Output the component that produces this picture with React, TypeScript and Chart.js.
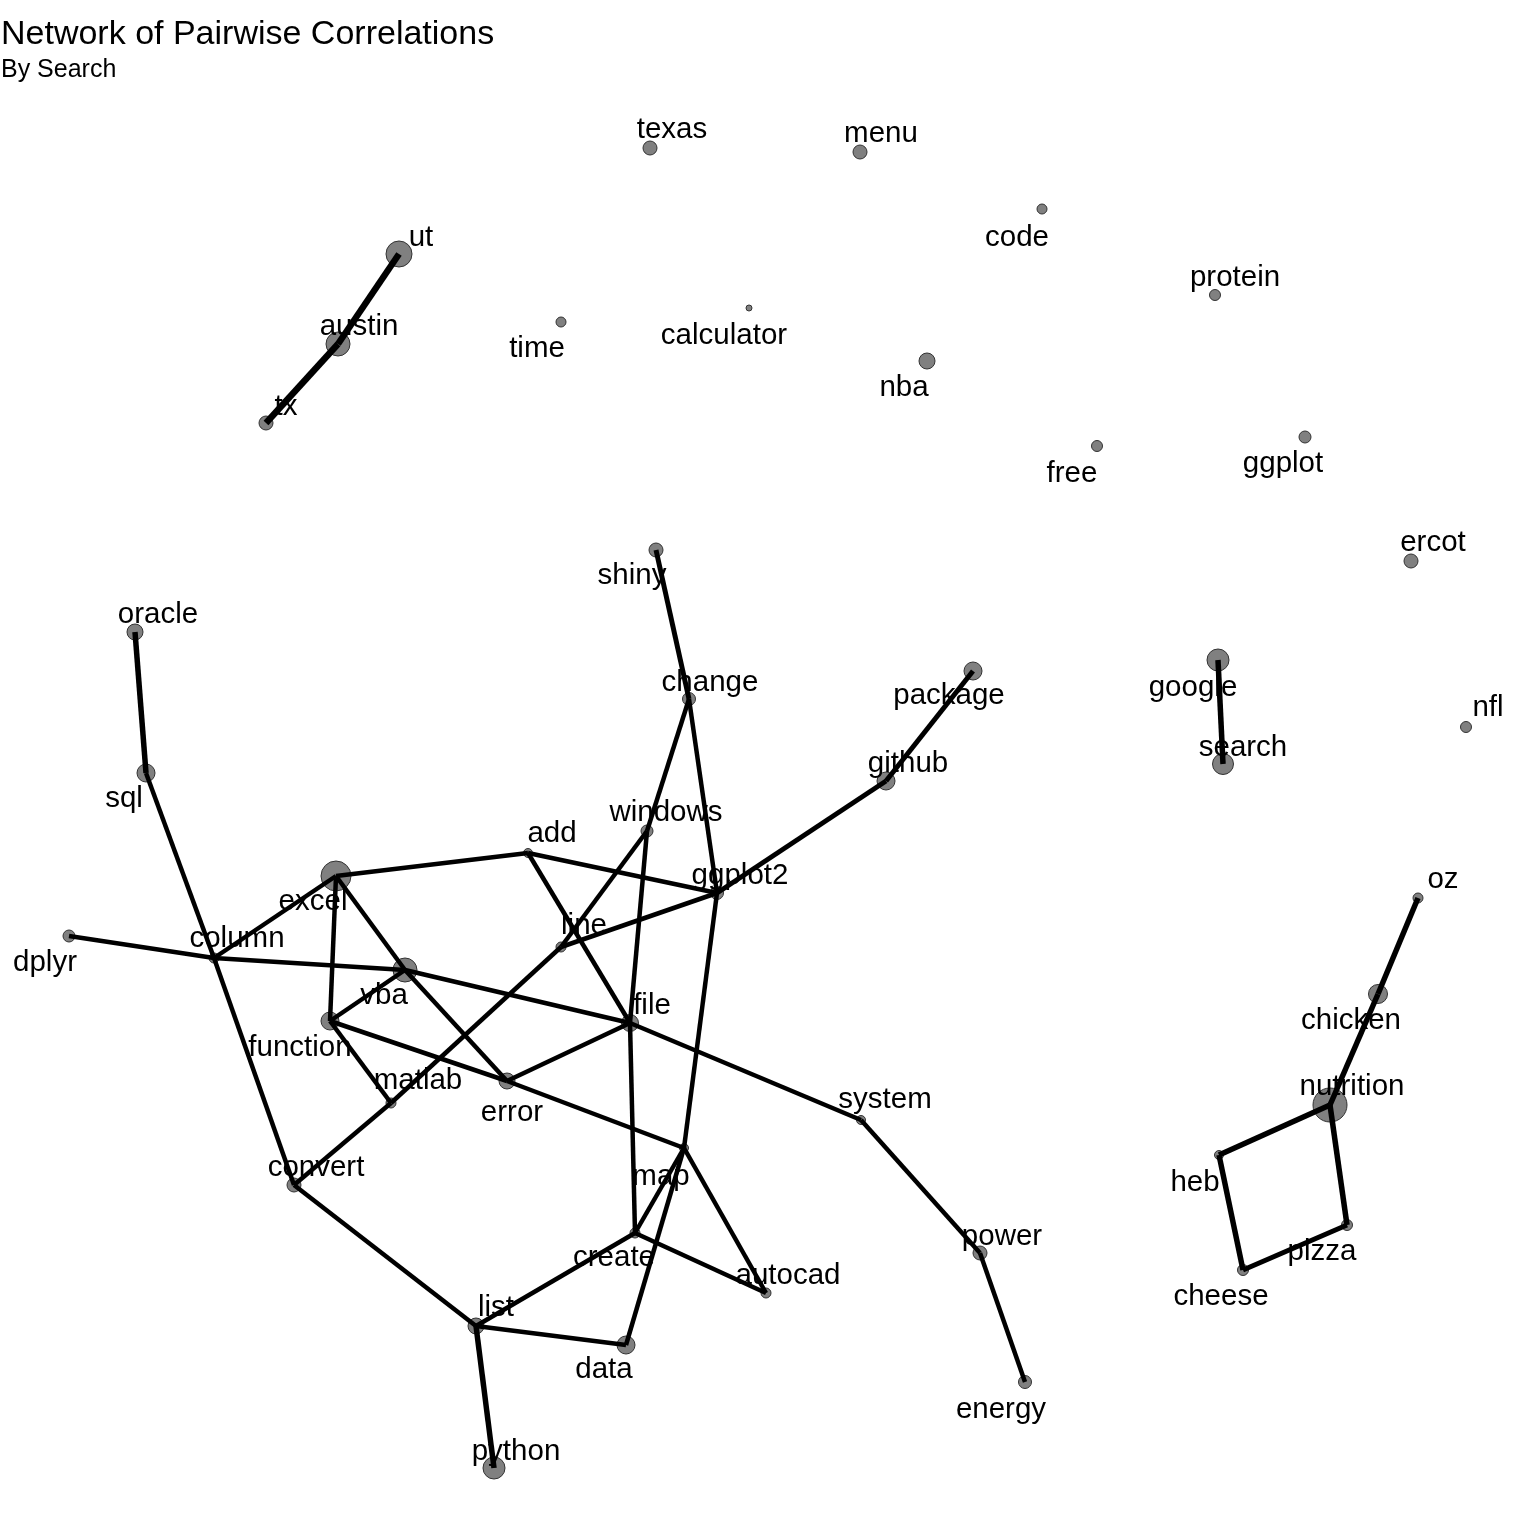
import React, { useEffect, useRef } from "react";
import { Chart, registerables } from "chart.js";

Chart.register(...registerables);

// Node names, layout coordinates, and sizes
const nodeNames = [
  "texas", "menu", "code", "protein", "ut", "austin", "tx", "time", "calculator", "nba",
  "free", "ggplot", "ercot", "shiny", "oracle", "change", "package", "google", "nfl", "search",
  "github", "sql", "windows", "add", "excel", "ggplot2", "oz", "dplyr", "line", "column",
  "vba", "chicken", "file", "function", "error", "matlab", "nutrition", "system", "map", "heb",
  "convert", "pizza", "create", "power", "cheese", "autocad", "list", "data", "energy", "python",
];
const nodeX = [
  650, 860, 1042, 1215, 399, 338, 266, 561, 749, 927,
  1097, 1305, 1411, 656, 135, 689, 973, 1218, 1466, 1223,
  886, 146, 647, 528, 336, 717, 1418, 69, 561, 214,
  405, 1378, 630, 330, 507, 391, 1330, 861, 684, 1219,
  294, 1347, 635, 980, 1243, 766, 476, 626, 1025, 494,
];
const nodeY = [
  148, 152, 209, 295, 254, 344, 423, 322, 308, 361,
  446, 437, 561, 550, 632, 699, 671, 660, 727, 764,
  781, 773, 831, 853, 876, 893, 898, 936, 947, 958,
  970, 994, 1023, 1021, 1081, 1103, 1105, 1120, 1148, 1155,
  1185, 1225, 1233, 1253, 1270, 1293, 1326, 1345, 1382, 1468,
];
const nodeSize = [
  7, 7, 5, 5.5, 13, 12, 7, 5, 3, 8,
  5.5, 6, 7, 7, 8, 6.5, 9, 11, 5.5, 10.5,
  9, 9, 6, 4.5, 15, 6.5, 5, 6, 5, 5,
  12, 9.5, 8.5, 9, 8, 5, 17, 4.5, 4.5, 4.5,
  7, 5.5, 5, 7, 5.5, 5, 8, 9, 6.5, 11,
];
// Label anchor positions (visual centre of the text)
const labelX = [
  672, 881, 1017, 1235, 421, 359, 286, 537, 724, 904,
  1072, 1283, 1433, 632, 158, 710, 949, 1193, 1488, 1243,
  908, 124, 666, 552, 313, 740, 1443, 45, 584, 237,
  384, 1351, 652, 300, 512, 418, 1352, 885, 661, 1195,
  316, 1322, 614, 1002, 1221, 788, 496, 604, 1001, 516,
];
const labelY = [
  130, 134, 238, 278, 238, 327, 407, 349, 336, 388,
  474, 464, 543, 576, 615, 683, 696, 688, 708, 748,
  764, 799, 813, 834, 902, 876, 880, 963, 926, 939,
  996, 1021, 1006, 1048, 1113, 1081, 1087, 1100, 1177, 1183,
  1168, 1252, 1258, 1237, 1297, 1276, 1308, 1370, 1410, 1452,
];

// Edges (pairs of words) and their widths (correlation strength)
const edgeFrom = [
  "ut", "austin", "oracle", "sql", "column", "column", "column", "column",
  "excel", "excel", "excel", "add", "add", "shiny", "change", "change",
  "package", "github", "google", "windows", "line", "matlab", "windows", "line",
  "vba", "vba", "vba", "function", "function", "error", "error", "file",
  "file", "ggplot2", "map", "map", "map", "create", "create", "list",
  "list", "list", "system", "power", "oz", "chicken", "nutrition", "nutrition",
  "heb", "cheese",
];
const edgeTo = [
  "austin", "tx", "sql", "column", "convert", "excel", "dplyr", "vba",
  "add", "vba", "function", "ggplot2", "file", "change", "windows", "ggplot2",
  "github", "ggplot2", "search", "line", "matlab", "convert", "file", "ggplot2",
  "file", "error", "function", "matlab", "error", "map", "file", "system",
  "create", "map", "data", "create", "autocad", "autocad", "list", "convert",
  "data", "python", "power", "energy", "chicken", "nutrition", "heb", "pizza",
  "cheese", "pizza",
];
const edgeWidth = [
  6.5, 6.5, 5.5, 4.5, 4.5, 4.5, 4.5, 4.5,
  4.5, 4.5, 4.5, 4.5, 4.5, 5, 4.5, 4.5,
  5, 5, 5.5, 4.5, 4.5, 4.5, 4.5, 4.5,
  4.5, 4.5, 4.5, 4.5, 4.5, 4.5, 4.5, 4.5,
  4.5, 4.5, 4.5, 4.5, 4.5, 4.5, 4.5, 4.5,
  4.5, 5.5, 4.5, 4.5, 5.5, 5.5, 5.5, 5.5,
  5.5, 5,
];

const titleText = "Network of Pairwise Correlations";
const subtitleText = "By Search";

export default function App() {
  const ref = useRef<HTMLCanvasElement | null>(null);

  useEffect(() => {
    document.body.style.margin = "0";
    const canvas = ref.current;
    if (!canvas) return;

    const idx = (n: string) => nodeNames.indexOf(n);
    const edgeSets = edgeFrom.map((f, i) => {
      const a = idx(f);
      const b = idx(edgeTo[i]);
      return {
        type: "scatter" as const,
        label: f + "-" + edgeTo[i],
        data: [
          { x: nodeX[a], y: nodeY[a] },
          { x: nodeX[b], y: nodeY[b] },
        ],
        showLine: true,
        borderColor: "#000000",
        borderWidth: edgeWidth[i],
        pointRadius: 0,
        pointHoverRadius: 0,
        fill: false,
        order: 1,
      };
    });

    const nodeSet = {
      type: "scatter" as const,
      label: "nodes",
      data: nodeNames.map((n, i) => ({ x: nodeX[i], y: nodeY[i] })),
      pointRadius: nodeSize,
      pointHoverRadius: nodeSize,
      backgroundColor: "#808080",
      borderColor: "#333333",
      borderWidth: 1,
      showLine: false,
      order: 2,
    };

    const textPlugin = {
      id: "textPlugin",
      afterDatasetsDraw(chart: any) {
        const ctx = chart.ctx;
        const xs = chart.scales.x;
        const ys = chart.scales.y;
        ctx.save();
        ctx.fillStyle = "#000000";
        ctx.font = '29.5px "Liberation Sans", Arial, sans-serif';
        ctx.textAlign = "center";
        ctx.textBaseline = "middle";
        nodeNames.forEach((n, i) => {
          ctx.fillText(n, xs.getPixelForValue(labelX[i]), ys.getPixelForValue(labelY[i]));
        });
        ctx.textAlign = "left";
        ctx.textBaseline = "alphabetic";
        ctx.font = '34px "Liberation Sans", Arial, sans-serif';
        ctx.fillText(titleText, 1, 44);
        ctx.font = '25px "Liberation Sans", Arial, sans-serif';
        ctx.fillText(subtitleText, 1, 77);
        ctx.restore();
      },
    };

    const bgPlugin = {
      id: "bg",
      beforeDraw(chart: any) {
        const ctx = chart.ctx;
        ctx.save();
        ctx.fillStyle = "#ffffff";
        ctx.fillRect(0, 0, chart.width, chart.height);
        ctx.restore();
      },
    };

    const chart = new Chart(canvas, {
      type: "scatter",
      data: { datasets: [...edgeSets, nodeSet] as any },
      options: {
        animation: false,
        responsive: false,
        devicePixelRatio: 1,
        layout: { padding: 0, autoPadding: false },
        events: [],
        plugins: {
          legend: { display: false },
          tooltip: { enabled: false },
          title: { display: false },
        },
        scales: {
          x: { type: "linear", min: 0, max: 1536, display: false },
          y: { type: "linear", min: 0, max: 1536, reverse: true, display: false },
        },
      },
      plugins: [bgPlugin, textPlugin],
    });
    return () => chart.destroy();
  }, []);

  return (
    <div style={{ width: 1536, height: 1536 }}>
      <canvas ref={ref} width={1536} height={1536} style={{ display: "block", width: 1536, height: 1536 }} />
    </div>
  );
}
